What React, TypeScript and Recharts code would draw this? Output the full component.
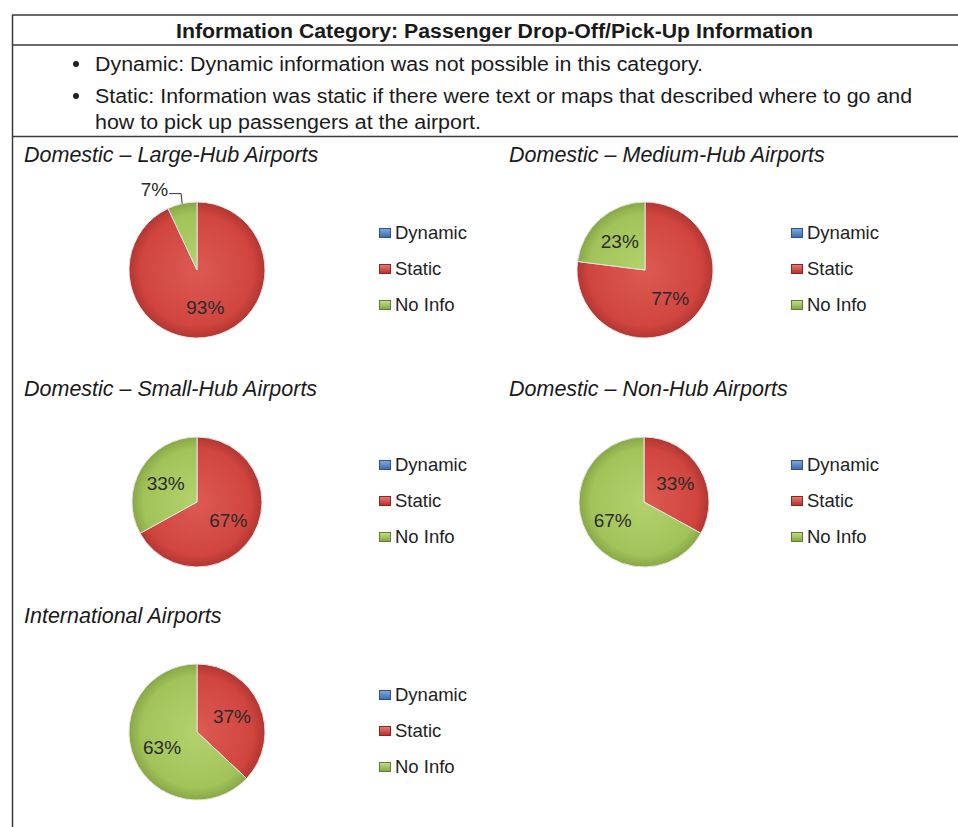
import React from 'react'
import { Cell, Legend, Pie, PieChart } from 'recharts'

// legend / slice categories, in drawing order (clockwise from 12 o'clock)
const categories = ['Dynamic', 'Static', 'No Info']

// percentages per airport group: [Dynamic, Static, No Info]
const largeHub = [0, 93, 7]
const mediumHub = [0, 77, 23]
const smallHub = [0, 67, 33]
const nonHub = [0, 33, 67]
const international = [0, 37, 63]

const heading = 'Information Category: Passenger Drop-Off/Pick-Up Information'
const bulletLines = [
  'Dynamic: Dynamic information was not possible in this category.',
  'Static: Information was static if there were text or maps that described where to go and',
  'how to pick up passengers at the airport.',
]

const FONT = '"Liberation Sans", Arial, Helvetica, sans-serif'
const RAD = Math.PI / 180

// pie slice shading: [center, body, rim]
const sliceShades = [
  ['#6a97d0', '#4f81bd', '#3a6699'],
  ['#dc5a53', '#d1453f', '#b23632'],
  ['#b3d26c', '#a2c35a', '#86a744'],
]
// legend swatch gradient: [top, bottom, border]
const swatch = [
  ['#7fa6db', '#3e6fae', '#2c5288'],
  ['#e27a74', '#b9322d', '#8c2521'],
  ['#c3dc8a', '#84a843', '#607c2e'],
]

const panels = [
  { id: 'large', title: 'Domestic \u2013 Large-Hub Airports', values: largeHub, tx: 24, ty: 162, cx: 197, cy: 270, r: 68, lx: 379 },
  { id: 'medium', title: 'Domestic \u2013 Medium-Hub Airports', values: mediumHub, tx: 509, ty: 162, cx: 645, cy: 270, r: 68, lx: 791 },
  { id: 'small', title: 'Domestic \u2013 Small-Hub Airports', values: smallHub, tx: 24, ty: 396, cx: 197, cy: 502, r: 65, lx: 379 },
  { id: 'non', title: 'Domestic \u2013 Non-Hub Airports', values: nonHub, tx: 509, ty: 396, cx: 644, cy: 502, r: 65, lx: 791 },
  { id: 'intl', title: 'International Airports', values: international, tx: 24, ty: 623, cx: 197, cy: 732, r: 68, lx: 379 },
]

function renderLabel(p: any) {
  const { cx, cy, midAngle, outerRadius, value } = p
  if (!value) return null
  const cos = Math.cos(-midAngle * RAD)
  const sin = Math.sin(-midAngle * RAD)
  const txt = { fontFamily: FONT, fontSize: 19, fill: '#2a2a2a' }
  if (value < 10) {
    // small slice: label outside with an elbow leader
    const ex = cx + outerRadius * cos
    const ey = cy + outerRadius * sin
    const ky = ey - 10
    const kx = ex - 1
    const lx = kx - 12
    return (
      <g>
        <polyline points={`${ex},${ey} ${kx},${ky} ${lx},${ky}`} fill="none" stroke="#333" strokeWidth={1} />
        <text x={lx - 1} y={ky - 4} textAnchor="end" dominantBaseline="central" {...txt}>{value}%</text>
      </g>
    )
  }
  const d = outerRadius * 0.56
  return (
    <text x={cx + d * cos} y={cy + d * sin} textAnchor="middle" dominantBaseline="central" {...txt}>
      {value}%
    </text>
  )
}

function LegendBox() {
  return (
    <div style={{ fontFamily: FONT, fontSize: 18.5, color: '#222' }}>
      {categories.map((name, i) => (
        <div key={name} style={{ height: 36, display: 'flex', alignItems: 'center' }}>
          <span
            style={{
              display: 'inline-block', width: 12, height: 10, marginRight: 4, boxSizing: 'border-box',
              background: `linear-gradient(${swatch[i][0]}, ${swatch[i][1]})`,
              border: `1px solid ${swatch[i][2]}`,
            }}
          />
          {name}
        </div>
      ))}
    </div>
  )
}

function PiePanel({ id, values, cx, cy, r, lx }: any) {
  const data = categories.map((name, i) => ({ name, value: values[i] }))
  const W = 400
  const H = 200
  const ox = 100
  const oy = 100
  return (
    <div style={{ position: 'absolute', left: cx - ox, top: cy - oy, width: W, height: H }}>
      <PieChart width={W} height={H} margin={{ top: 0, right: 0, bottom: 0, left: 0 }}>
        <defs>
          {sliceShades.map((s, i) => (
            <radialGradient key={i} id={`${id}-g${i}`} gradientUnits="userSpaceOnUse" cx={ox} cy={oy} r={r}>
              <stop offset="0%" stopColor={s[0]} />
              <stop offset="82%" stopColor={s[1]} />
              <stop offset="100%" stopColor={s[2]} />
            </radialGradient>
          ))}
        </defs>
        <Pie
          data={data}
          dataKey="value"
          nameKey="name"
          cx={ox}
          cy={oy}
          outerRadius={r}
          startAngle={90}
          endAngle={-270}
          label={renderLabel}
          labelLine={false}
          isAnimationActive={false}
        >
          {data.map((d, i) => (
            <Cell key={i} fill={`url(#${id}-g${i})`} stroke={d.value ? '#e4e4e4' : 'none'} strokeWidth={1} />
          ))}
        </Pie>
        <Legend
          layout="vertical"
          align="right"
          verticalAlign="middle"
          wrapperStyle={{ left: lx - (cx - ox), top: oy - 55, width: 'auto' }}
          content={<LegendBox />}
        />
      </PieChart>
    </div>
  )
}

export default function App() {
  return (
    <div style={{ position: 'absolute', left: 0, top: 0, width: 958, height: 827, overflow: 'hidden', background: '#fff' }}>
      <svg width={958} height={827} style={{ position: 'absolute', left: 0, top: 0 }}>
        <g stroke="#3a3a3a" strokeWidth={1.5}>
          <line x1={12} y1={15} x2={958} y2={15} />
          <line x1={12} y1={45} x2={958} y2={45} />
          <line x1={12} y1={136.5} x2={958} y2={136.5} />
          <line x1={12.5} y1={15} x2={12.5} y2={827} />
        </g>
        <text x={176} y={38} textLength={637} lengthAdjust="spacingAndGlyphs" fontFamily={FONT} fontWeight="bold" fontSize={20} fill="#1a1a1a">
          {heading}
        </text>
        <circle cx={76} cy={64} r={3} fill="#222" />
        <circle cx={76} cy={96} r={3} fill="#222" />
        {bulletLines.map((t, i) => (
          <text
            key={i}
            x={95}
            y={[71, 103, 129][i]}
            textLength={[608, 817, 386][i]}
            lengthAdjust="spacingAndGlyphs"
            fontFamily={FONT}
            fontSize={20}
            fill="#1a1a1a"
          >
            {t}
          </text>
        ))}
        {panels.map((p) => (
          <text key={p.id} x={p.tx} y={p.ty} fontFamily={FONT} fontStyle="italic" fontSize={21.5} fill="#1a1a1a">
            {p.title}
          </text>
        ))}
      </svg>
      {panels.map((p) => (
        <PiePanel key={p.id} {...p} />
      ))}
    </div>
  )
}
